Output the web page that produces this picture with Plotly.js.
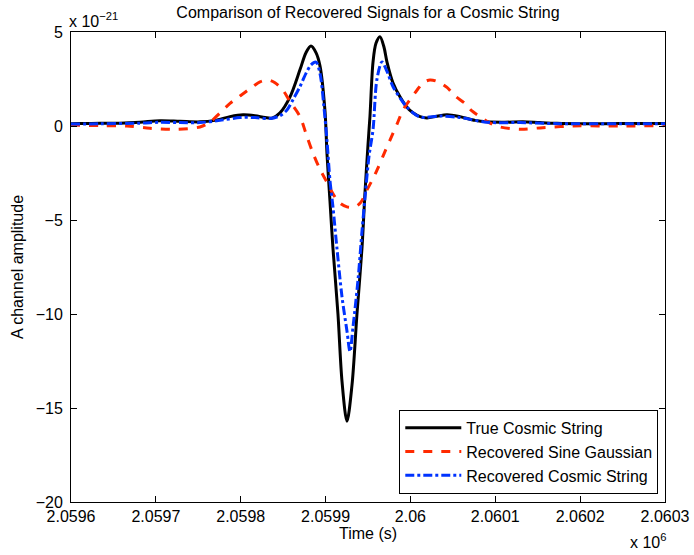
<!DOCTYPE html>
<html>
<head>
<meta charset="utf-8">
<script src="https://cdn.plot.ly/plotly-3.0.1.min.js"></script>
<style>html,body{margin:0;padding:0;background:#fff;}#chart{width:694px;height:555px;}</style>
</head>
<body>
<div id="chart"></div>
<script>
// time offsets in seconds from t0, amplitudes in units of 1e-21
var t0 = 2059600;
var trueT = [0,10.6,34.2,57.7,81.3,104.9,128.4,152.0,169.7,187.4,202.7,216.8,228.6,236.9,246.3,258.1,269.9,276.9,282.8,288.7,293.4,299.3,301.7,305.2,308.7,314.6,319.4,325.2,331.1,337.0,342.9,346.5,350.0,352.3,355.9,359.4,364.1,368.8,372.4,379.4,387.7,395.9,403.0,411.3,419.5,431.3,443.1,458.4,476.1,490.2,511.4,532.6,552.7,572.7,599.8,646.9,700.0];
var trueA = [0.12,0.13,0.14,0.15,0.2,0.28,0.25,0.22,0.3,0.5,0.6,0.55,0.45,0.42,0.7,1.55,3.0,3.9,4.25,3.9,3.2,0.8,-1.5,-4.0,-6.5,-10.0,-13.6,-15.7,-13.8,-10.0,-6.5,-3.5,-1.0,0.5,3.4,4.4,4.75,4.2,3.4,2.3,1.55,1.0,0.7,0.5,0.43,0.52,0.6,0.5,0.3,0.22,0.2,0.23,0.18,0.14,0.12,0.13,0.13];

var sgT = [0,34.2,66.0,93.1,124.9,152.0,163.8,175.6,187.4,199.2,214.5,222.7,232.1,240.4,249.8,258.1,269.9,276.9,285.2,293.4,301.7,310.0,317.0,325.2,334.7,341.7,348.8,354.7,360.6,367.7,375.9,384.2,391.2,399.5,407.7,414.8,423.1,432.5,443.1,452.5,464.3,472.5,482.0,493.8,505.6,529.2,552.7,591.6,646.9,700];
var sgA = [0.05,0.02,0,-0.12,-0.18,-0.05,0.2,0.7,1.2,1.6,2.1,2.35,2.45,2.3,1.9,1.3,0.5,-0.4,-1.45,-2.3,-3.0,-3.7,-4.1,-4.3,-4.3,-4.05,-3.4,-2.9,-2.35,-1.6,-0.75,0.1,0.85,1.4,1.9,2.3,2.45,2.35,2.05,1.6,1.2,0.8,0.5,0.15,-0.05,-0.17,-0.1,0,0,0.02];

var recT = [0,34.2,81.3,104.9,128.4,152.0,175.6,199.2,216.8,234.5,246.3,254.5,261.6,269.9,276.9,282.8,288.7,293.4,298.1,301.7,305.2,308.7,313.4,319.4,325.2,328.8,332.3,338.2,342.9,346.5,351.2,355.9,360.6,366.5,372.4,379.4,387.7,395.9,411.3,434.8,458.4,490.2,529.1,576.2,646.9,700];
var recA = [0.1,0.12,0.15,0.2,0.18,0.18,0.3,0.45,0.45,0.4,0.55,0.85,1.4,2.1,2.8,3.25,3.4,2.8,1.0,-0.8,-2.9,-4.3,-6.5,-9.1,-10.9,-12.0,-10.7,-8.2,-5.6,-3.8,-1.6,-0.2,2.5,3.4,2.9,2.1,1.5,1.0,0.48,0.53,0.45,0.2,0.18,0.12,0.12,0.12];

var xTickVals = [2059600,2059700,2059800,2059900,2060000,2060100,2060200,2060300];
var xTickText = ['2.0596','2.0597','2.0598','2.0599','2.06','2.0601','2.0602','2.0603'];
var yTickVals = [5,0,-5,-10,-15,-20];

function abs(arr){ return arr.map(function(v){ return t0 + v; }); }

var traces = [
  {x: abs(trueT), y: trueA, name: 'True Cosmic String', mode: 'lines',
   line: {color: '#000000', width: 3, shape: 'spline', smoothing: 0.9}},
  {x: abs(sgT), y: sgA, name: 'Recovered Sine Gaussian', mode: 'lines',
   line: {color: '#ff2a00', width: 3, dash: 'dash', shape: 'spline', smoothing: 0.9}},
  {x: abs(recT), y: recA, name: 'Recovered Cosmic String', mode: 'lines',
   line: {color: '#0033ff', width: 3, dash: 'dashdot', shape: 'spline', smoothing: 0.9}}
];

var fontFam = 'Liberation Sans, Arial, Helvetica, sans-serif';
var layout = {
  width: 694, height: 555,
  margin: {l: 71, r: 29, t: 32, b: 53},
  paper_bgcolor: '#fff', plot_bgcolor: '#fff',
  font: {family: fontFam, size: 16, color: '#000'},
  title: {text: 'Comparison of Recovered Signals for a Cosmic String', font: {size: 16, family: fontFam},
          xref: 'paper', x: 0.5, xanchor: 'center', yref: 'container', y: 0.977, yanchor: 'middle'},
  xaxis: {range: [2059600, 2060300], tickvals: xTickVals, ticktext: xTickText,
          ticks: 'inside', ticklen: 6, tickcolor: '#000', showline: true, linecolor: '#000', linewidth: 1,
          mirror: 'ticks', showgrid: false, zeroline: false, tickfont: {size: 16}, ticklabelstandoff: 0,
          title: {text: 'Time (s)', font: {size: 16}, standoff: 3}},
  yaxis: {range: [-20, 5], tickvals: yTickVals, ticks: 'inside', ticklen: 6, tickcolor: '#000',
          showline: true, linecolor: '#000', linewidth: 1, mirror: 'ticks', showgrid: false, zeroline: false,
          tickfont: {size: 16}, ticklabelstandoff: 4,
          title: {text: 'A channel amplitude', font: {size: 16}, standoff: 8}},
  showlegend: true,
  legend: {x: 0.9887, xanchor: 'right', y: 0.0175, yanchor: 'bottom', bgcolor: '#fff',
           bordercolor: '#000', borderwidth: 1, font: {size: 16}, itemwidth: 56, tracegroupgap: 0},
  annotations: [
    {text: 'x 10<sup>−21</sup>', xref: 'paper', yref: 'paper', x: 0.0, xanchor: 'left', y: 1.0, yanchor: 'bottom',
     showarrow: false, font: {size: 16}, yshift: 0, xshift: -4},
    {text: 'x 10<sup>6</sup>', xref: 'paper', yref: 'paper', x: 0.9377, xanchor: 'left', y: 0, yanchor: 'top',
     showarrow: false, font: {size: 16}, yshift: -27}
  ]
};

Plotly.newPlot('chart', traces, layout, {displayModeBar: false, staticPlot: true});
</script>
</body>
</html>
